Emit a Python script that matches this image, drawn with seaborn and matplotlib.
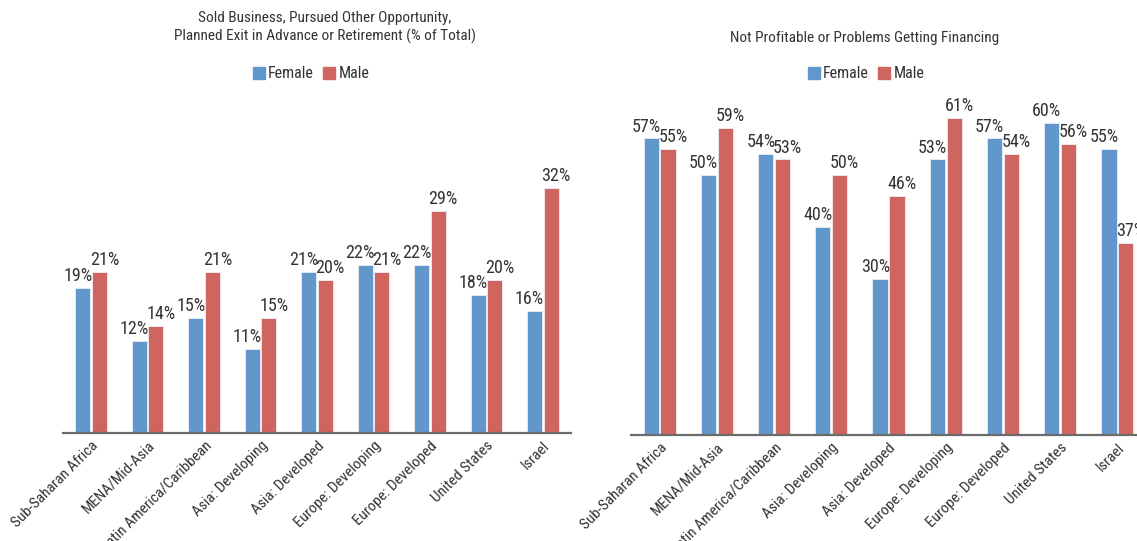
import pandas as pd
import matplotlib
matplotlib.use("Agg")
import matplotlib.pyplot as plt
import seaborn as sns

# ================================
# Data
# ================================
regions = ["Sub-Saharan Africa", "MENA/Mid-Asia", "Latin America/Caribbean",
           "Asia: Developing", "Asia: Developed", "Europe: Developing",
           "Europe: Developed", "United States", "Israel"]

exit_female = [19, 12, 15, 11, 21, 22, 22, 18, 16]
exit_male = [21, 14, 21, 15, 20, 21, 29, 20, 32]

fin_female = [57, 50, 54, 40, 30, 53, 57, 60, 55]
fin_male = [55, 59, 53, 50, 46, 61, 54, 56, 37]

title_left = "Sold Business, Pursued Other Opportunity,\nPlanned Exit in Advance or Retirement (% of Total)"
title_right = "Not Profitable or Problems Getting Financing"

colors = {"Female": "#6197CB", "Male": "#D0645E"}


def long_form(female, male):
    df = pd.DataFrame({"Region": regions, "Female": female, "Male": male})
    return df.melt(id_vars="Region", var_name="Gender", value_name="Share")


# ================================
# Plot
# ================================
sns.set_style("white")
plt.rcParams["font.family"] = ["Liberation Sans Narrow", "Roboto Condensed", "DejaVu Sans"]
plt.rcParams["font.stretch"] = "condensed"

W, H = 1137, 541
fig = plt.figure(figsize=(W / 100, H / 100), dpi=100)

# axes boxes in pixels: left, bottom(from top), width, height, ymax
panels = [
    (63, 433, 508, 333, 43.5, exit_female, exit_male),
    (631, 435, 515, 335, 64.4, fin_female, fin_male),
]

axes = []
for left, base, width, height, ymax, fem, mal in panels:
    ax = fig.add_axes([left / W, (H - base) / H, width / W, height / H])
    sns.barplot(data=long_form(fem, mal), x="Region", y="Share", hue="Gender",
                palette=colors, saturation=1, width=0.59, gap=0.1, ax=ax,
                edgecolor="#eaf0f6", linewidth=0.6, legend=False)
    # value labels, nudged outward like the original
    for cont, dx in zip(ax.containers, [-3.5, 3.5]):
        for bar in cont:
            h = bar.get_height()
            ax.annotate(f"{h:.0f}%", (bar.get_x() + bar.get_width() / 2, h),
                        xytext=(dx, 2), textcoords="offset points",
                        ha="center", va="bottom", fontsize=13, color="#333333",
                        annotation_clip=False)
    ax.set_ylim(0, ymax)
    ax.set_xlim(-0.5, 8.5)
    ax.set_xlabel("")
    ax.set_ylabel("")
    ax.set_yticks([])
    sns.despine(ax=ax, left=True, top=True, right=True)
    ax.spines["bottom"].set_color("#6b6b6b")
    ax.spines["bottom"].set_linewidth(1.6)
    ax.tick_params(axis="x", length=0, pad=4)
    ax.set_xticks(range(len(regions)))
    ax.set_xticklabels(regions, rotation=45, ha="right", rotation_mode="anchor",
                       fontsize=11, color="#333333")
    axes.append(ax)

# titles
fig.text(325 / W, 1 - 27.5 / H, title_left, ha="center", va="center",
         fontsize=11, color="#333333", linespacing=1.35)
fig.text(865 / W, 1 - 38 / H, title_right, ha="center", va="center",
         fontsize=11, color="#333333")

# legends
handles = [plt.Rectangle((0, 0), 1, 1, color=colors[g]) for g in ["Female", "Male"]]
for ax, cx in [(axes[0], 311), (axes[1], 866)]:
    ax.legend(handles, ["Female", "Male"], loc="center",
              bbox_to_anchor=(cx / W, 1 - 74 / H), bbox_transform=fig.transFigure,
              ncol=2, frameon=False, fontsize=11.5, handlelength=0.75,
              handleheight=0.85, handletextpad=0.2, columnspacing=0.6,
              labelcolor="#333333")

fig.savefig("out.png", dpi=100)
